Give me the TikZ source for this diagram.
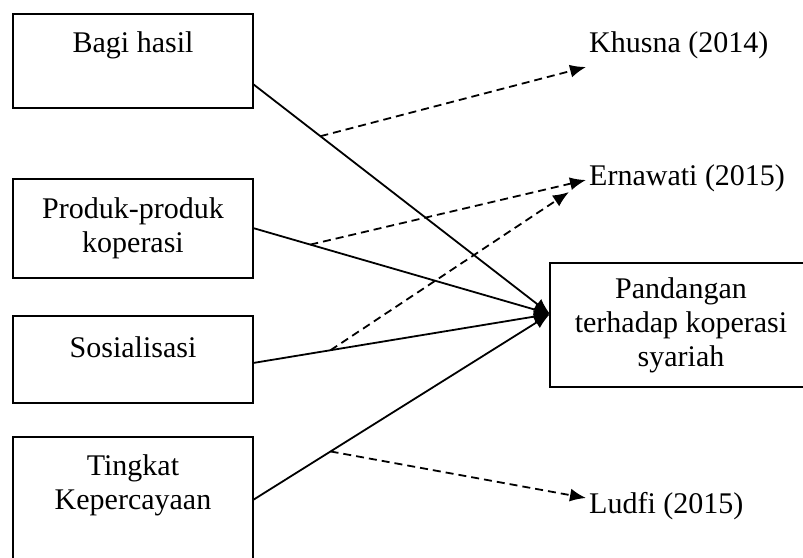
\documentclass[tikz,border=0pt]{standalone}
\usepackage{fontspec}
\setmainfont{Liberation Serif}
\usetikzlibrary{arrows.meta}
\begin{document}
\begin{tikzpicture}[x=1pt,y=-1pt,
  box/.style={draw,line width=2pt,inner sep=0pt,minimum width=240pt},
  txt/.style={font=\fontsize{30}{34}\selectfont,align=center,inner sep=0pt},
  ref/.style={font=\fontsize{30}{34}\selectfont,anchor=west,inner sep=0pt},
  solidarr/.style={line width=1.8pt,-{Latex[length=16pt,width=13pt]}},
  dasharr/.style={line width=1.8pt,dash pattern=on 8pt off 5pt,-{Latex[length=16pt,width=13pt]}}]
\useasboundingbox (0,0) rectangle (803,557);
\clip (0,0) rectangle (803,557);
% boxes
\node[box,minimum height=94pt] (bagi) at (133,61) {};
\node[txt] (bagiT) at (133,45) {Bagi hasil};
\node[box,minimum height=99pt,txt] (produk) at (133,228.5) {Produk-produk\\koperasi};
\node[box,minimum height=87pt] (sos) at (133,359.5) {};
\node[txt] (sosT) at (133,347) {Sosialisasi};
\node[box,minimum height=163pt] (ting) at (133,518.5) {};
\node[txt] (tingT) at (133,485) {Tingkat\\Kepercayaan};
\node[box,minimum width=262pt,minimum height=124pt,txt] (pand) at (681,325) {Pandangan\\terhadap koperasi\\syariah};
% references
\node[ref] (khusna) at (589,45) {Khusna (2014)};
\node[ref] (ernawati) at (589,178) {Ernawati (2015)};
\node[ref] (ludfi) at (589,506) {Ludfi (2015)};
% connection points
\coordinate (tgt) at (550,314);
\coordinate (bagiR) at (253,84);
\coordinate (produkR) at (253,228);
\coordinate (sosR) at (253,363);
\coordinate (tingR) at (253,500);
\coordinate (kE) at (586,67);
\coordinate (e1E) at (586,180);
\coordinate (e2E) at (569,192);
\coordinate (lE) at (586,498);
% solid arrows
\draw[solidarr] (bagiR) -- (tgt) coordinate[pos=0.227] (kS);
\draw[solidarr] (produkR) -- (tgt) coordinate[pos=0.193] (e1S);
\draw[solidarr] (sosR) -- (tgt) coordinate[pos=0.261] (e2S);
\draw[solidarr] (tingR) -- (tgt) coordinate[pos=0.261] (lS);
% dashed arrows
\draw[dasharr] (kS) -- (kE);
\draw[dasharr] (e1S) -- (e1E);
\draw[dasharr] (e2S) -- (e2E);
\draw[dasharr] (lS) -- (lE);
\end{tikzpicture}
\end{document}
